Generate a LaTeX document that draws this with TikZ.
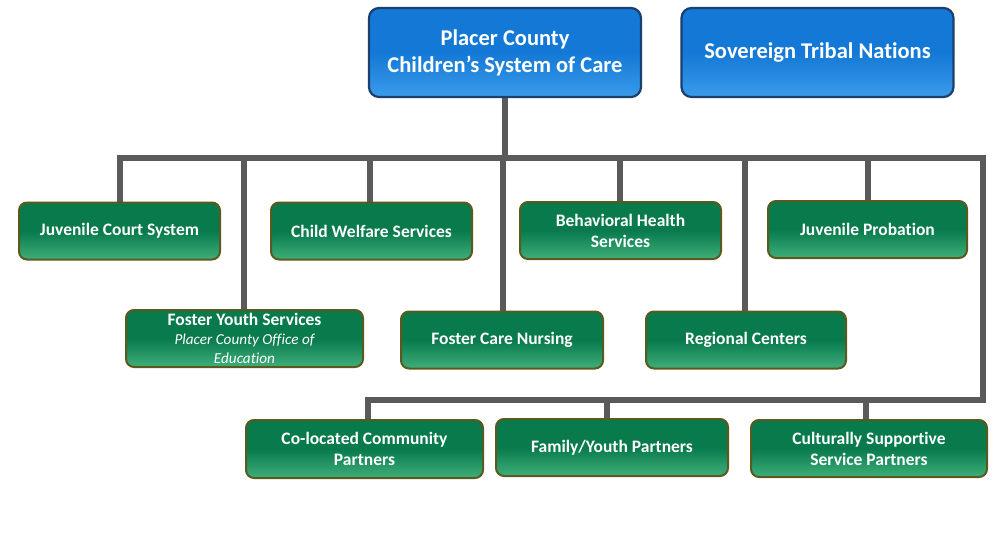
\documentclass[tikz,border=0pt]{standalone}
\usepackage{fontspec}
\setmainfont{Carlito}[Ligatures=NoCommon]
\usetikzlibrary{backgrounds}
\definecolor{bluefill}{HTML}{1479D6}
\definecolor{bluelight}{HTML}{3A9BEA}
\definecolor{blueedge}{HTML}{1B3F6E}
\definecolor{greenfill}{HTML}{087A4C}
\definecolor{greenlight}{HTML}{3FAE7A}
\definecolor{greenedge}{HTML}{5A5A1E}
\definecolor{conncol}{HTML}{5A5A5A}
\tikzset{
  bluebox/.style={draw=blueedge, line width=2.2pt, rounded corners=10pt,
    top color=bluefill, bottom color=bluelight, middle color=bluefill,
    text=white, align=center, inner sep=0pt,
    font=\bfseries\fontsize{22.5}{27}\selectfont,
    minimum width=272pt, minimum height=89pt},
  greenbox/.style={draw=greenedge, line width=2pt, rounded corners=8pt,
    top color=greenfill, bottom color=greenlight, middle color=greenfill,
    text=white, align=center, inner sep=0pt,
    font=\bfseries\fontsize{17.5}{21}\selectfont,
    minimum height=57pt},
  conn/.style={draw=conncol, line width=6pt, line join=miter, line cap=rect}
}
\begin{document}
\begin{tikzpicture}[x=1pt,y=-1pt]
\useasboundingbox (0,0) rectangle (994,539);

\node[bluebox] (pc) at (505,52.5) {Placer County\\Children’s System of Care};
\node[bluebox] (stn) at (817.5,52.5) {\raisebox{2pt}{Sovereign Tribal Nations}};

\node[greenbox, minimum width=201pt] (jcs) at (119.5,231) {Juvenile Court System};
\node[greenbox, minimum width=201pt] (cws) at (371.5,231) {Child Welfare Services};
\node[greenbox, minimum width=201pt] (bhs) at (620.5,230.5) {Behavioral Health\\Services};
\node[greenbox, minimum width=199pt] (jp) at (867.5,229.5) {Juvenile Probation};

\node[greenbox, minimum width=237pt, font=\bfseries\fontsize{17.5}{19}\selectfont] (fys) at (244.5,338.5)
  {Foster Youth Services\\{\mdseries\itshape\fontsize{15.2}{18}\selectfont Placer County Office of}\\{\mdseries\itshape\fontsize{15.2}{18}\selectfont Education}};
\node[greenbox, minimum width=202pt] (fcn) at (502,340) {Foster Care Nursing};
\node[greenbox, minimum width=200pt] (rc) at (746,340) {Regional Centers};

\node[greenbox, minimum width=237pt, minimum height=58pt] (col) at (364.5,449) {Co-located Community\\Partners};
\node[greenbox, minimum width=232pt] (fyp) at (612,447.5) {Family/Youth Partners};
\node[greenbox, minimum width=236pt, minimum height=57pt] (csp) at (869,448.5) {Culturally Supportive\\Service Partners};

\coordinate (busR) at (983,158);
\coordinate (bus2R) at (983,400);

\begin{scope}[on background layer]
\fill[white] (0,0) rectangle (994,539);
\draw[conn] (pc.south) -- (pc.south |- busR);
\draw[conn] ([xshift=0.5pt]jcs.north) |- (busR) |- ([xshift=3.5pt]col.north |- bus2R) -- ([xshift=3.5pt]col.north);
\draw[conn] ([xshift=-1.5pt]cws.north) -- ([xshift=-1.5pt]cws.north |- busR);
\draw[conn] ([xshift=-0.5pt]bhs.north) -- ([xshift=-0.5pt]bhs.north |- busR);
\draw[conn] ([xshift=0.5pt]jp.north) -- ([xshift=0.5pt]jp.north |- busR);
\draw[conn] ([xshift=-0.5pt]fys.north) -- ([xshift=-0.5pt]fys.north |- busR);
\draw[conn] ([xshift=1pt]fcn.north) -- ([xshift=1pt]fcn.north |- busR);
\draw[conn] ([xshift=-1pt]rc.north) -- ([xshift=-1pt]rc.north |- busR);
\draw[conn] ([xshift=-5pt]fyp.north) -- ([xshift=-5pt]fyp.north |- bus2R);
\draw[conn] ([xshift=-3pt]csp.north) -- ([xshift=-3pt]csp.north |- bus2R);
\end{scope}
\end{tikzpicture}
\end{document}
